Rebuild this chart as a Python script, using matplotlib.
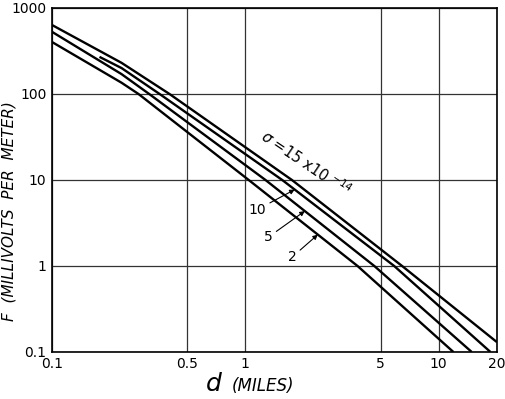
import numpy as np
import matplotlib
matplotlib.use("Agg")
import matplotlib.pyplot as plt

# distance (miles) / field (mV per m)
d_15 = [0.1, 0.229, 0.405, 1.74, 6.46, 20.0]
f_15 = [634, 230, 100, 10, 1, 0.13]
d_10 = [0.176, 0.229, 0.36, 1.55, 5.88, 18.5]
f_10 = [270, 200, 100, 10, 1, 0.1]
d_5 = [0.1, 0.229, 0.318, 1.27, 4.64, 14.8]
f_5 = [528, 170, 100, 10, 1, 0.1]
d_2 = [0.1, 0.229, 0.28, 1.04, 3.8, 11.9]
f_2 = [402, 135, 100, 10, 1, 0.1]

x_ticks = [0.1, 0.5, 1, 5, 10, 20]
x_labels = ["0.1", "0.5", "1", "5", "10", "20"]
y_ticks = [0.1, 1, 10, 100, 1000]
y_labels = ["0.1", "1", "10", "100", "1000"]

plt.rcParams['font.family'] = ['DejaVu Sans']

fig = plt.figure(figsize=(5.05, 3.99), dpi=100)
ax = fig.add_axes([0.103, 0.118, 0.881, 0.862])
ax.set_xscale('log')
ax.set_yscale('log')
ax.set_xlim(0.1, 20)
ax.set_ylim(0.1, 1000)

for d, f in [(d_15, f_15), (d_10, f_10), (d_5, f_5), (d_2, f_2)]:
    ax.plot(d, f, color='black', lw=1.7, solid_capstyle='butt',
            solid_joinstyle='round')

ax.set_xticks(x_ticks)
ax.set_xticklabels(x_labels)
ax.set_yticks(y_ticks)
ax.set_yticklabels(y_labels)
ax.minorticks_off()
ax.tick_params(length=0, labelsize=10, pad=4)
ax.grid(True, color='#333333', lw=0.9)
for s in ax.spines.values():
    s.set_linewidth(1.2)


def on_curve(x, d, f):
    # position on a curve for the arrow tips (log-log)
    return 10 ** np.interp(np.log10(x), np.log10(d), np.log10(f))


arrow = dict(arrowstyle='-|>', color='black', lw=0.8, mutation_scale=7,
             shrinkA=1, shrinkB=0)
for txt, tx, ty, ax_x, d, f in [("10", 1.15, 4.5, 1.80, d_10, f_10),
                                  ("5", 1.31, 2.15, 2.03, d_5, f_5),
                                  ("2", 1.74, 1.26, 2.37, d_2, f_2)]:
    ax.annotate(txt, xy=(ax_x, on_curve(ax_x, d, f)), xytext=(tx, ty),
                ha='center', va='center', fontsize=10, arrowprops=arrow)

ax.text(2.05, 15.5, r"$\sigma$ =15 x10 $^{-14}$", rotation=-34,
        ha='center', va='center', fontsize=10.5, rotation_mode='anchor')

fig.text(0.018, 0.47, "F  (MILLIVOLTS  PER  METER)", rotation=90,
         fontsize=11, style='italic', ha='center', va='center')
fig.text(0.44, 0.021, "d", fontsize=18, style='italic', ha='right',
         va='baseline')
fig.text(0.459, 0.021, "(MILES)", fontsize=12, style='italic', ha='left',
         va='baseline')

fig.savefig("out.png", dpi=100)
